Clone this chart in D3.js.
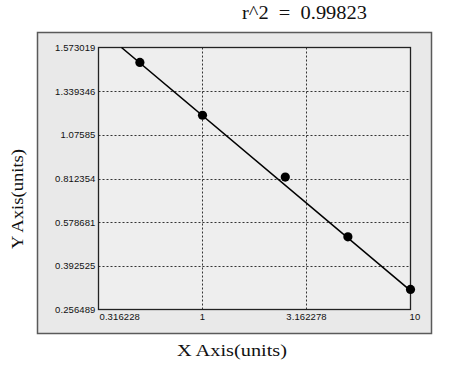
<!DOCTYPE html>
<html>
<head>
<meta charset="utf-8">
<script src="https://cdn.jsdelivr.net/npm/d3@7"></script>
<style>
  html, body { margin: 0; padding: 0; background: #fff; }
  svg { display: block; }
</style>
</head>
<body>
<svg id="chart" width="451" height="373"></svg>
<script>
// ---------- data ----------
const xTicks = [0.316228, 1, 3.162278, 10];
const yTicks = [0.256489, 0.392525, 0.578681, 0.812354, 1.07585, 1.339346, 1.573019];
const xValues = [0.5, 1, 2.5, 5, 10];
const yValues = [1.493, 1.194, 0.821, 0.516, 0.319];
// fitted line end points
const fitX = [0.408, 10];
const fitY = [1.573019, 0.3155];
const rSquared = "0.99823";

const svg = d3.select("#chart");
const plot = { left: 98.5, right: 410.5, top: 47.5, bottom: 309.5 };

const x = d3.scaleLog().domain([xTicks[0], xTicks[xTicks.length - 1]]).range([plot.left, plot.right]);
// tick labels sit at even spacing, so the y scale is piecewise between them
const y = d3.scaleLinear()
  .domain(yTicks)
  .range(yTicks.map((d, i) => plot.bottom - i * (plot.bottom - plot.top) / (yTicks.length - 1)));

// outer panel
svg.append("rect")
  .attr("x", 37.5).attr("y", 32.5).attr("width", 394).attr("height", 301)
  .attr("fill", "#e9e9e9").attr("stroke", "#5a5a5a").attr("stroke-width", 1.5);

// plot area
svg.append("rect")
  .attr("x", plot.left).attr("y", plot.top)
  .attr("width", plot.right - plot.left).attr("height", plot.bottom - plot.top)
  .attr("fill", "#eeeeee");

// grid
const grid = svg.append("g").attr("stroke", "#333").attr("stroke-width", 1).attr("stroke-dasharray", "2,2");
grid.selectAll("line.h")
  .data(yTicks.slice(1, -1))
  .join("line")
  .attr("x1", plot.left).attr("x2", plot.right)
  .attr("y1", (d) => Math.round(y(d)) + 0.5).attr("y2", (d) => Math.round(y(d)) + 0.5);
grid.selectAll("line.v")
  .data(xTicks.slice(1, -1))
  .join("line")
  .attr("y1", plot.top).attr("y2", plot.bottom)
  .attr("x1", (d) => Math.round(x(d)) + 0.5).attr("x2", (d) => Math.round(x(d)) + 0.5);

// plot frame
svg.append("rect")
  .attr("x", plot.left).attr("y", plot.top)
  .attr("width", plot.right - plot.left).attr("height", plot.bottom - plot.top)
  .attr("fill", "none").attr("stroke", "#222").attr("stroke-width", 1.3);

// tick labels
const tickFont = "'Liberation Sans', Arial, sans-serif";
svg.append("g")
  .selectAll("text")
  .data(yTicks)
  .join("text")
  .attr("x", plot.left - 3)
  .attr("y", (d) => y(d) + 3.5)
  .attr("text-anchor", "end")
  .attr("font-family", tickFont)
  .attr("font-size", 9.5)
  .attr("letter-spacing", 0.1)
  .attr("fill", "#111")
  .text((d) => d);

svg.append("g")
  .selectAll("text")
  .data(xTicks)
  .join("text")
  .attr("x", (d, i) => (i === 0 ? plot.left + 1 : x(d)))
  .attr("y", plot.bottom + 10)
  .attr("text-anchor", (d, i) => (i === 0 ? "start" : i === xTicks.length - 1 ? "start" : "middle"))
  .attr("dx", (d, i) => (i === xTicks.length - 1 ? -1 : 0))
  .attr("font-family", tickFont)
  .attr("font-size", 9.5)
  .attr("letter-spacing", 0.1)
  .attr("fill", "#111")
  .text((d) => d);

// fitted line
const line = d3.line().x((d) => x(d[0])).y((d) => y(d[1]));
svg.append("path")
  .datum(d3.zip(fitX, fitY))
  .attr("d", line)
  .attr("fill", "none")
  .attr("stroke", "#000")
  .attr("stroke-width", 1.6);

// points
svg.append("g")
  .selectAll("circle")
  .data(d3.zip(xValues, yValues))
  .join("circle")
  .attr("cx", (d) => x(d[0]))
  .attr("cy", (d) => y(d[1]))
  .attr("r", 4.6)
  .attr("fill", "#000");

// titles
const serif = "'Liberation Serif', 'Times New Roman', serif";
svg.append("text")
  .attr("x", 242).attr("y", 19)
  .attr("font-family", serif).attr("font-size", 18)
  .attr("fill", "#111")
  .attr("xml:space", "preserve")
  .attr("textLength", 125).attr("lengthAdjust", "spacingAndGlyphs")
  .text("r^2  =  " + rSquared);

svg.append("text")
  .attr("x", 177).attr("y", 356)
  .attr("font-family", serif).attr("font-size", 17.5)
  .attr("fill", "#111")
  .attr("textLength", 110).attr("lengthAdjust", "spacingAndGlyphs")
  .text("X Axis(units)");

svg.append("text")
  .attr("transform", "translate(23,249) rotate(-90)")
  .attr("font-family", serif).attr("font-size", 17.5)
  .attr("fill", "#111")
  .attr("textLength", 100).attr("lengthAdjust", "spacingAndGlyphs")
  .text("Y Axis(units)");
</script>
</body>
</html>
